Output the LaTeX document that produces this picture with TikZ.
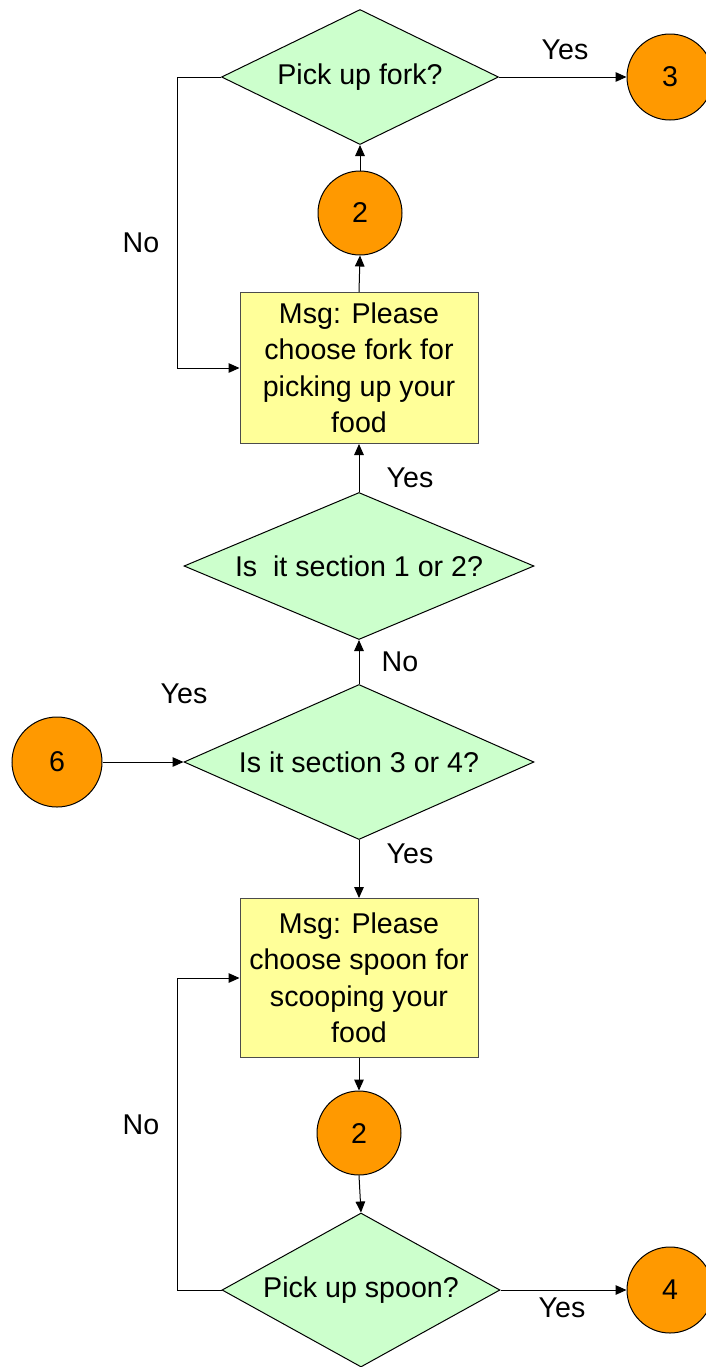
\documentclass[tikz,border=0pt]{standalone}
\usepackage{fontspec}
\setmainfont{Liberation Sans}
\usetikzlibrary{shapes.geometric,arrows.meta}
\definecolor{decfill}{HTML}{CCFFCC}
\definecolor{connfill}{HTML}{FF9900}
\definecolor{msgfill}{HTML}{FFFF99}
\begin{document}
\begin{tikzpicture}[x=0.5pt,y=-0.5pt,
  every node/.style={font=\fontsize{14.3}{18.25}\selectfont},
  decision/.style={diamond, draw=black, line width=0.5pt, fill=decfill,
    inner sep=0pt, shape aspect=2.2},
  connector/.style={circle, draw=black, line width=0.5pt, fill=connfill,
    inner sep=0pt, minimum size=43pt},
  msgbox/.style={rectangle, draw=black!70, line width=0.5pt, fill=msgfill,
    align=center, inner sep=0pt, minimum width=119pt},
  arr/.style={draw=black, line width=0.5pt, -{Triangle[length=5.5pt,width=4.8pt]}},
  lbl/.style={inner sep=0pt}]
\useasboundingbox (0,0) rectangle (706,1367);

% upper branch: fork
\node[decision, minimum width=138.5pt, minimum height=67.5pt] (d1) at (360,77) {Pick up fork?};
\node[connector] (c3) at (670,77) {3};
\node[connector, minimum size=42pt] (c2a) at (360,213) {2};
\node[msgbox, minimum height=75.5pt] (b1) at (359,368)
  {Msg: Please\\choose fork for\\picking up your\\food};

% section tests
\node[decision, minimum width=175pt, minimum height=73.5pt] (d2) at (359,566) {Is\ \ it section 1 or 2?};
\node[decision, minimum width=175pt, minimum height=77.5pt] (d3) at (359,762) {Is it section 3 or 4?};
\node[connector, minimum size=45pt] (c6) at (57,762) {6};

% lower branch: spoon
\node[msgbox, minimum height=79.5pt] (b2) at (359,978)
  {Msg: Please\\choose spoon for\\scooping your\\food};
\node[connector, minimum size=42pt] (c2b) at (359,1133) {2};
\node[decision, minimum width=139pt, minimum height=77pt] (d4) at (361,1290) {Pick up spoon?};
\node[connector] (c4) at (670,1290) {4};

% connectors
\draw[arr] (d1.east) -- (c3.west);
\draw[arr] (c2a.north) -- (d1.south);
\draw[arr] (b1.north) -- (c2a.south);
\draw[arr] (d1.west) -- ++(-44,0) |- (b1.west);
\draw[arr] (d2.north) -- (b1.south);
\draw[arr] (d3.north) -- (d2.south);
\draw[arr] (c6.east) -- (d3.west);
\draw[arr] (d3.south) -- (b2.north);
\draw[arr] (b2.south) -- (c2b.north);
\draw[arr] (c2b.south) -- (d4.north);
\draw[arr] (d4.east) -- (c4.west);
\draw[arr] (d4.west) -- ++(-44,0) |- (b2.west);

% labels
\node[lbl] (l1) at (565,50) {Yes};
\node[lbl] (l2) at (141,243) {No};
\node[lbl] (l3) at (410,478) {Yes};
\node[lbl] (l4) at (400,662) {No};
\node[lbl] (l5) at (184,694) {Yes};
\node[lbl] (l6) at (410,854) {Yes};
\node[lbl] (l7) at (141,1125) {No};
\node[lbl] (l8) at (562,1308) {Yes};
\end{tikzpicture}
\end{document}
